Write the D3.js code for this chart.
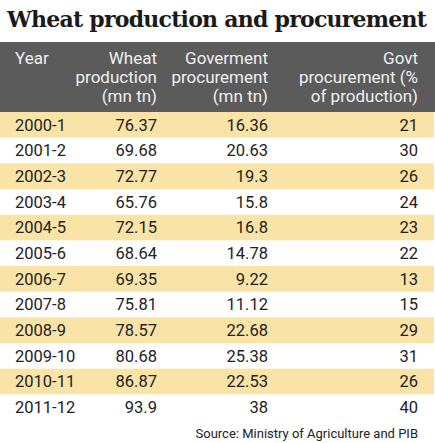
<!DOCTYPE html>
<html><head><meta charset="utf-8">
<script src="https://cdn.jsdelivr.net/npm/d3@7"></script>
<style>body{margin:0;background:#fff}</style>
</head><body>
<svg id="chart" width="435" height="443"></svg>
<script>
// table data
var years = ["2000-1","2001-2","2002-3","2003-4","2004-5","2005-6","2006-7","2007-8","2008-9","2009-10","2010-11","2011-12"];
var production = ["76.37","69.68","72.77","65.76","72.15","68.64","69.35","75.81","78.57","80.68","86.87","93.9"];
var procurement = ["16.36","20.63","19.3","15.8","16.8","14.78","9.22","11.12","22.68","25.38","22.53","38"];
var pctOfProduction = ["21","30","26","24","23","22","13","15","29","31","26","40"];
var headers = [
  ["Year"],
  ["Wheat","production","(mn tn)"],
  ["Goverment","procurement","(mn tn)"],
  ["Govt","procurement (%","of production)"]
];

var svg = d3.select("#chart");
var W = 435;
var colX = [15, 157, 268, 418];
var colAnchor = ["start","end","end","end"];
var font = "Roboto, 'Open Sans', sans-serif";

svg.append("text")
  .attr("x", 7).attr("y", 27)
  .style("font-family", "'DejaVu Serif', 'Liberation Serif', serif")
  .style("font-weight", "bold")
  .style("font-size", "22px")
  .style("fill", "#1a1a1a")
  .attr("textLength", 420)
  .text("Wheat production and procurement");

svg.append("rect").attr("x", 0).attr("y", 42).attr("width", W).attr("height", 70).attr("fill", "#5b5b5b");

headers.forEach(function (lines, c) {
  lines.forEach(function (line, j) {
    svg.append("text")
      .attr("x", colX[c]).attr("y", 64 + j * 19)
      .attr("text-anchor", colAnchor[c])
      .style("font-family", font).style("font-size", "17px")
      .style("fill", "#f0f0f0")
      .text(line);
  });
});

var y = d3.scaleBand().domain(years).range([112, 420]);

var rows = svg.selectAll("g.row").data(years).enter().append("g").attr("class", "row")
  .attr("transform", function (d) { return "translate(0," + y(d) + ")"; });

rows.filter(function (d, i) { return i % 2 === 0; })
  .append("rect").attr("x", 0).attr("width", 434).attr("height", y.bandwidth()).attr("fill", "#f9e3a6");

rows.each(function (d, i) {
  var vals = [years[i], production[i], procurement[i], pctOfProduction[i]];
  var g = d3.select(this);
  vals.forEach(function (v, c) {
    g.append("text")
      .attr("x", colX[c]).attr("y", y.bandwidth() / 2 + 6)
      .attr("text-anchor", colAnchor[c])
      .style("font-family", font).style("font-size", "16.5px")
      .style("fill", "#222")
      .text(v);
  });
});

svg.append("text")
  .attr("x", 418).attr("y", 438)
  .attr("text-anchor", "end")
  .style("font-family", font).style("font-size", "13px")
  .style("fill", "#222")
  .text("Source: Ministry of Agriculture and PIB");
</script>
</body></html>
